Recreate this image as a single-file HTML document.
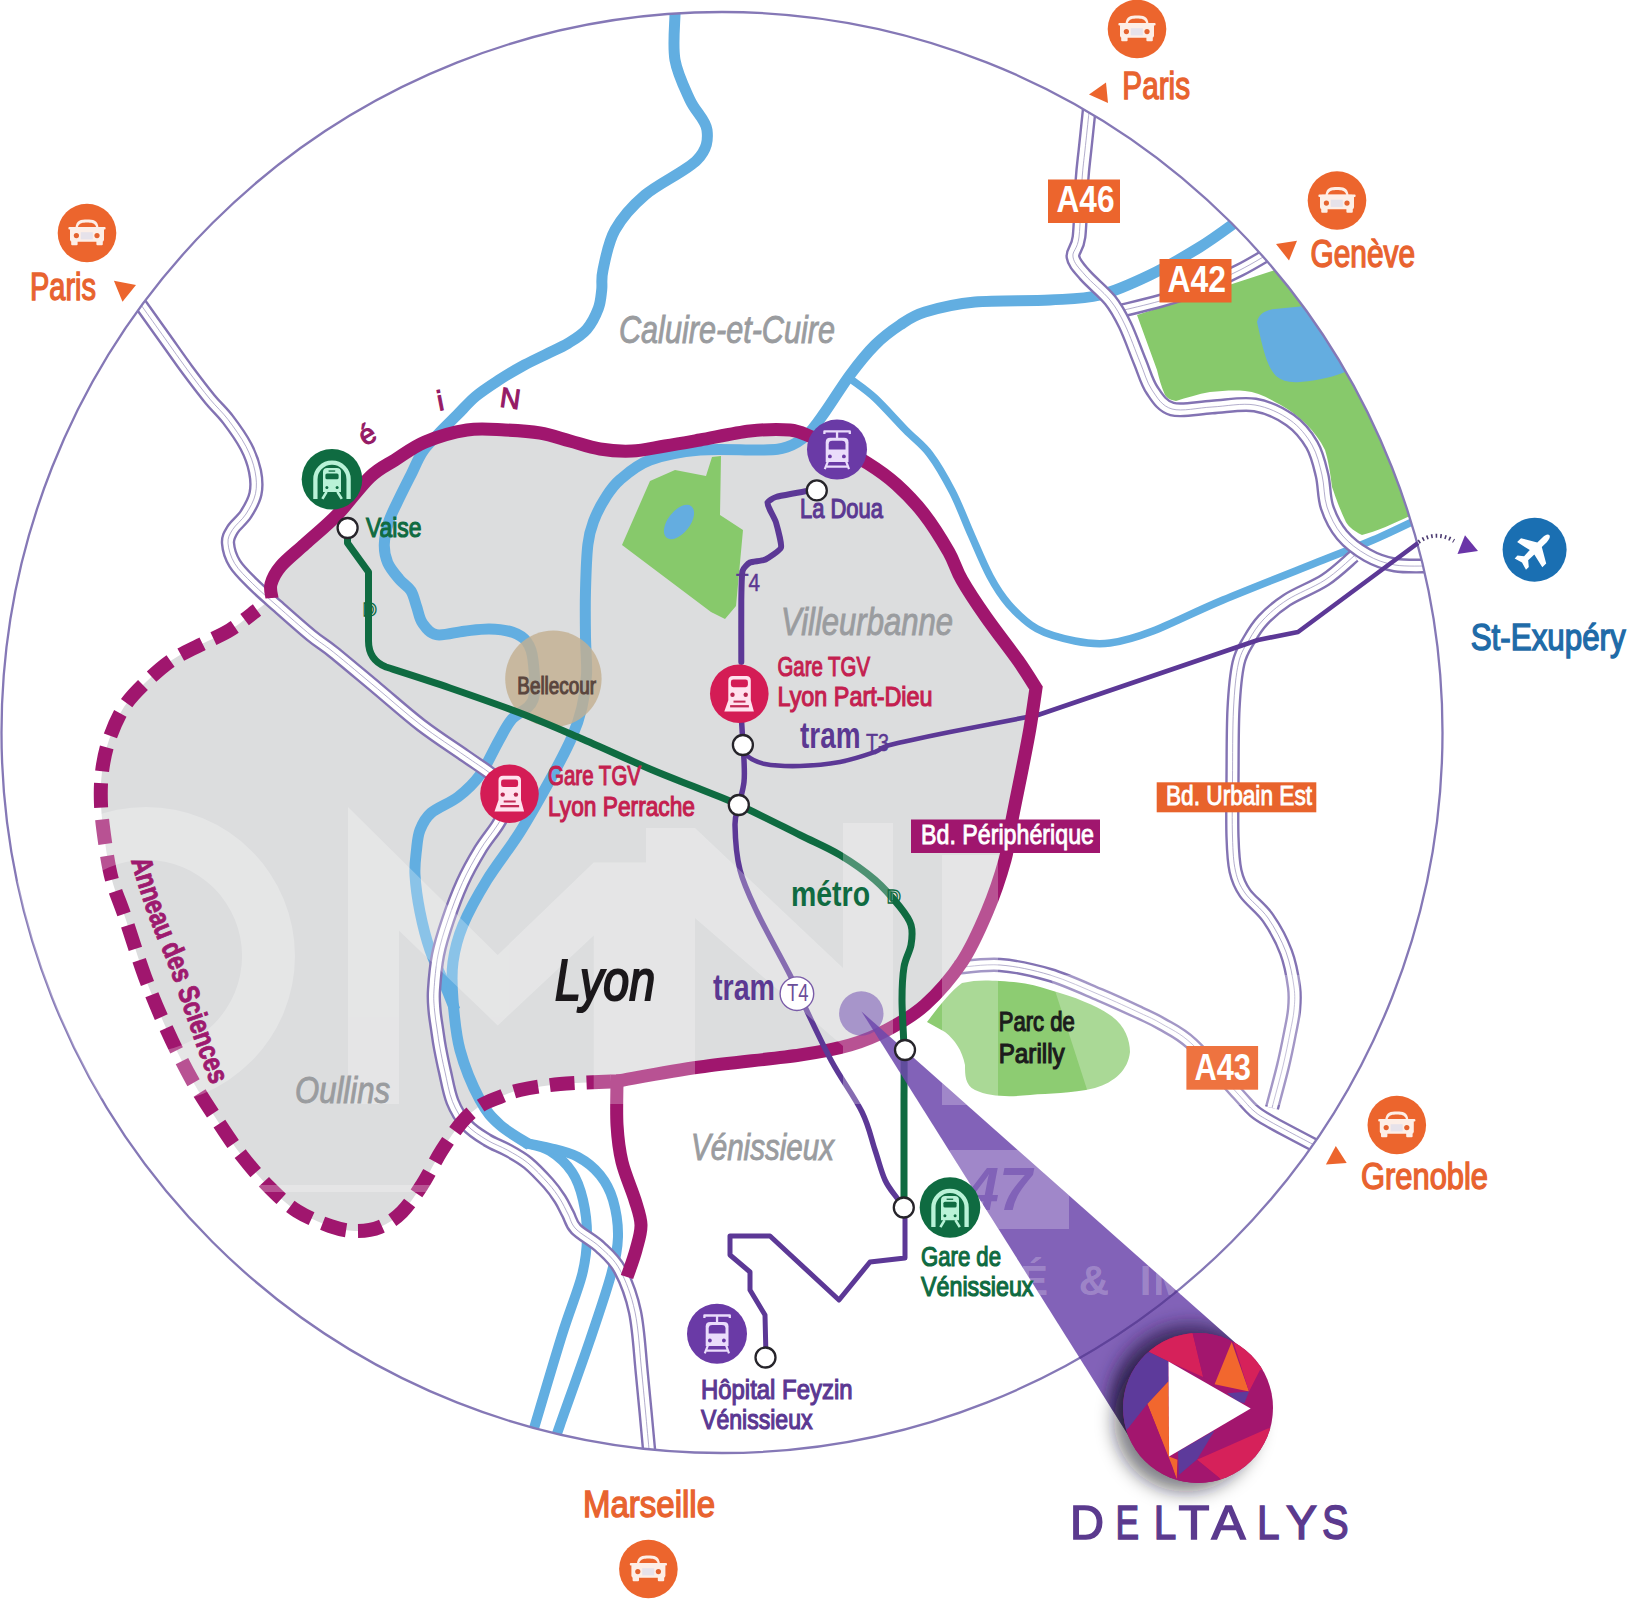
<!DOCTYPE html>
<html><head><meta charset="utf-8"><title>Deltalys - plan</title>
<style>html,body{margin:0;padding:0;background:#fff}svg{display:block}text{font-family:"Liberation Sans",sans-serif}</style>
</head><body>
<svg width="1646" height="1600" viewBox="0 0 1646 1600">
<defs>
<clipPath id="cc"><circle cx="722" cy="732.5" r="720.5"/></clipPath>
<g id="car"><circle r="29.3" fill="#ec652d"/>
<path d="M-11.6,-5 C-10.8,-13.2 -6,-13.6 0,-13.6 C6,-13.6 10.8,-13.2 11.6,-5 Z" fill="#fdeee6"/>
<path d="M-9.3,-5.6 C-8,-10 -4,-10.4 0,-10.4 C4,-10.4 8,-10 9.3,-5.6 Z" fill="#ec652d"/>
<rect x="-18.6" y="-6" width="37.2" height="2.6" rx="1" fill="#fdeee6"/>
<rect x="-17" y="-5.8" width="34" height="14.6" rx="2.5" fill="#fdeee6"/>
<rect x="-15.8" y="7" width="6.4" height="5.2" rx="1" fill="#fdeee6"/>
<rect x="9.4" y="7" width="6.4" height="5.2" rx="1" fill="#fdeee6"/>
<circle cx="-10.6" cy="2.6" r="2.6" fill="#e4622e"/><circle cx="10" cy="2.6" r="2.6" fill="#e4622e"/>
<rect x="-6.2" y="-0.8" width="12" height="7.2" fill="#e6e2ea"/></g>
<g id="metro"><circle r="30.3" fill="#0f6b41"/>
<path d="M-16.6,19.6 V0 A16.6,16.6 0 0 1 16.6,0 V19.6" fill="none" stroke="#b9f2d7" stroke-width="4.3"/>
<path d="M-9,12.8 V-7.2 Q-9,-11.4 -4.8,-11.4 H4.8 Q9,-11.4 9,-7.2 V12.8 Z" fill="#b9f2d7"/>
<rect x="-6.6" y="-5.8" width="13.2" height="5.8" rx="1.6" fill="#0f6b41"/>
<rect x="-3.4" y="-8.9" width="6.6" height="1.3" fill="#0f6b41"/>
<circle cx="-5.1" cy="8.3" r="1.5" fill="#0f6b41"/><circle cx="5.1" cy="8.3" r="1.5" fill="#0f6b41"/>
<path d="M-5.4,12.6 L-9.6,19.6 M5.4,12.6 L9.8,19.6" stroke="#b9f2d7" stroke-width="2.6" fill="none"/></g>
<g id="tram"><circle r="30" fill="#6a3aa6"/>
<path d="M-12.6,-15.6 V-18.2 H12.8 V-15.6" fill="none" stroke="#eadcfb" stroke-width="2.3" stroke-linejoin="round"/>
<rect x="-1.1" y="-18" width="2.3" height="7" fill="#eadcfb"/>
<path d="M-11.3,12.4 V-7.4 Q-11.3,-11.8 -6.8,-11.8 H7 Q11.5,-11.8 11.5,-7.4 V12.4 Z" fill="#eadcfb"/>
<path d="M-8.3,-0.2 V-5.4 Q-8.3,-8.8 -4.6,-8.8 H4.8 Q8.5,-8.8 8.5,-5.4 V-0.2 Z" fill="#6a3aa6"/>
<circle cx="-7.1" cy="6.8" r="1.9" fill="#6a3aa6"/><circle cx="6.9" cy="6.8" r="1.9" fill="#6a3aa6"/>
<path d="M-9.2,12 L-12.2,19.6 M9.2,12 L12,19.6 M-10.2,17 H10.2" stroke="#eadcfb" stroke-width="2.2" fill="none"/>
<rect x="-6" y="13" width="11.8" height="1.9" fill="#6a3aa6"/></g>
<g id="train"><circle r="29.3" fill="#d41c55"/>
<path d="M-11,6.4 V-13.4 Q-11,-17.9 -6.5,-17.9 H7 Q11.5,-17.9 11.5,-13.4 V6.4 L14.6,17.8 H-15 Z" fill="#ffe2ee"/>
<rect x="-8.4" y="-14.2" width="17" height="7.6" rx="2.4" fill="#d41c55"/>
<circle cx="-6.8" cy="0.9" r="2.2" fill="#b8264f"/><circle cx="6.4" cy="0.9" r="2.2" fill="#b8264f"/>
<rect x="-5.8" y="6.8" width="12" height="2" fill="#c22a55"/>
<rect x="-9.2" y="11.3" width="18.8" height="2.3" fill="#c22a55"/></g>
<g id="plane"><circle r="32" fill="#1a6fb2"/>
<path transform="rotate(45)" d="M0,-20.8 C2.1,-20.8 3.2,-17 3.2,-14 L3.2,-7 L17.8,1.4 L17.8,6.9 L3.2,3.6 L2.9,12 L8,16.2 L8,20.2 L0,17.8 L-8,20.2 L-8,16.2 L-2.9,12 L-3.2,3.6 L-17.8,6.9 L-17.8,1.4 L-3.2,-7 L-3.2,-14 C-3.2,-17 -2.1,-20.8 0,-20.8Z" fill="#fdfeff"/></g>
<g id="stn"><circle r="10" fill="#fff" stroke="#26242a" stroke-width="2.3"/></g>
<filter id="sh" x="-50%" y="-50%" width="200%" height="200%"><feGaussianBlur stdDeviation="9"/></filter>
<filter id="sh2" x="-50%" y="-50%" width="200%" height="200%"><feGaussianBlur stdDeviation="5"/></filter>
<clipPath id="beamclip"><path d="M861.5,1011.5 L1135.8,1447.2 L1198.0,1408.0 L1246.8,1353.0 Z"/></clipPath>
<clipPath id="logoclip"><circle cx="1198" cy="1408" r="75"/></clipPath>
</defs>
<rect width="1646" height="1600" fill="#fff"/>
<g clip-path="url(#cc)">
<path d="M272.0,598.0C271.8,595.7 269.5,589.3 271.0,584.0C272.5,578.7 275.3,572.7 281.0,566.0C286.7,559.3 295.7,552.5 305.0,544.0C314.3,535.5 326.2,526.2 337.0,515.0C347.8,503.8 360.3,486.2 370.0,477.0C379.7,467.8 385.8,465.8 395.0,460.0C404.2,454.2 413.0,447.0 425.0,442.0C437.0,437.0 453.7,432.0 467.0,430.0C480.3,428.0 492.8,429.5 505.0,430.0C517.2,430.5 529.2,431.2 540.0,433.0C550.8,434.8 560.0,438.3 570.0,441.0C580.0,443.7 589.7,447.3 600.0,449.0C610.3,450.7 621.2,451.5 632.0,451.0C642.8,450.5 653.7,447.8 665.0,446.0C676.3,444.2 685.8,442.5 700.0,440.0C714.2,437.5 735.0,432.7 750.0,431.0C765.0,429.3 779.7,429.0 790.0,430.0C800.3,431.0 804.2,434.2 812.0,437.0C819.8,439.8 827.7,442.6 837.0,447.0C846.3,451.4 858.1,457.3 868.0,463.5C877.9,469.7 886.9,475.9 896.3,484.4C905.7,492.9 915.6,503.1 924.4,514.4C933.1,525.6 942.5,541.0 948.8,551.9C955.0,562.8 955.6,569.1 961.9,580.0C968.1,590.9 976.9,604.1 986.3,617.5C995.7,630.9 1009.8,648.9 1018.1,660.6C1026.4,672.4 1033.0,683.4 1036.0,688.0L1036.0,688.0C1035.0,694.7 1032.3,714.3 1030.0,728.0C1027.7,741.7 1025.0,754.7 1022.0,770.0C1019.0,785.3 1014.8,805.0 1012.0,820.0C1009.2,835.0 1009.2,844.7 1005.0,860.0C1000.8,875.3 994.2,895.0 987.0,912.0C979.8,929.0 972.3,946.5 962.0,962.0C951.7,977.5 937.5,993.7 925.0,1005.0C912.5,1016.3 899.5,1023.3 887.0,1030.0C874.5,1036.7 864.5,1040.8 850.0,1045.0C835.5,1049.2 825.0,1051.3 800.0,1055.0C775.0,1058.7 730.5,1062.7 700.0,1067.0C669.5,1071.3 630.8,1078.7 617.0,1081.0L617.0,1081.0C614.2,1081.2 609.5,1081.5 600.0,1082.0C590.5,1082.5 573.3,1082.7 560.0,1084.0C546.7,1085.3 530.0,1087.8 520.0,1090.0C510.0,1092.2 506.7,1094.3 500.0,1097.0C493.3,1099.7 486.3,1101.8 480.0,1106.0C473.7,1110.2 468.3,1114.7 462.0,1122.0C455.7,1129.3 448.7,1139.5 442.0,1150.0C435.3,1160.5 428.7,1174.7 422.0,1185.0C415.3,1195.3 409.0,1205.0 402.0,1212.0C395.0,1219.0 387.8,1223.8 380.0,1227.0C372.2,1230.2 363.3,1231.2 355.0,1231.0C346.7,1230.8 339.7,1229.3 330.0,1226.0C320.3,1222.7 307.0,1217.3 297.0,1211.0C287.0,1204.7 279.2,1197.2 270.0,1188.0C260.8,1178.8 250.8,1167.3 242.0,1156.0C233.2,1144.7 225.3,1132.7 217.0,1120.0C208.7,1107.3 200.3,1095.0 192.0,1080.0C183.7,1065.0 174.8,1047.2 167.0,1030.0C159.2,1012.8 152.0,995.8 145.0,977.0C138.0,958.2 130.5,933.2 125.0,917.0C119.5,900.8 115.3,892.5 112.0,880.0C108.7,867.5 106.8,854.5 105.0,842.0C103.2,829.5 101.5,816.7 101.0,805.0C100.5,793.3 100.7,782.8 102.0,772.0C103.3,761.2 105.3,750.8 109.0,740.0C112.7,729.2 117.8,716.7 124.0,707.0C130.2,697.3 138.0,689.8 146.0,682.0C154.0,674.2 163.0,666.2 172.0,660.0C181.0,653.8 190.3,650.0 200.0,645.0C209.7,640.0 220.5,635.8 230.0,630.0C239.5,624.2 250.0,615.3 257.0,610.0C264.0,604.7 269.5,600.0 272.0,598.0Z" fill="#dcddde"/>
<path d="M622,545 L650,481 L675,470 L706,476 L712,457 L721,456 L720,515 L743,530 L736,606 L725,619 L711,612 Z" fill="#87c96b"/>
<ellipse cx="679" cy="522" rx="11" ry="20" transform="rotate(38 679 522)" fill="#64ade0"/>
<path d="M1137,315 L1272,271 L1500,200 L1500,500 L1412,515 C1395,523 1375,532 1362,535 C1352,530 1347,525 1345,520 C1338,505 1335,495 1332,487 C1330,470 1328,460 1325,450 C1320,440 1314,432 1307,425 C1297,415 1287,408 1275,402 C1265,396 1255,392 1245,391 C1233,390 1222,391 1210,392 C1198,394 1186,398 1176,401 C1170,400 1167,398 1165,395 C1161,386 1159,378 1157,370 Z" fill="#87c96b"/>
<path d="M1257,322 C1259,313 1266,310 1275,309 L1305,306 L1500,300 L1500,372 L1345,372 C1335,376 1322,380 1300,382 C1290,383 1282,381 1276,376 C1268,368 1264,352 1261,340 Z" fill="#64ade0"/>
<path d="M927,1022 C940,1005 950,992 962,983 C975,980 985,980 1000,981 C1020,982 1035,985 1050,990 C1075,997 1095,1005 1110,1015 C1125,1025 1130,1040 1130,1052 C1128,1070 1115,1082 1095,1088 C1070,1094 1050,1093 1030,1095 C1010,1097 990,1097 975,1090 C965,1085 965,1075 965,1065 C962,1050 955,1040 945,1032 Z" fill="#8dcc72"/>
<g fill="none" stroke="#62aee1" stroke-linecap="butt" stroke-linejoin="round">
<path d="M852.0,380.0C855.8,383.0 866.1,389.7 875.0,398.0C883.9,406.3 896.4,420.6 905.6,430.0C914.8,439.4 922.2,444.1 930.0,454.4C937.8,464.7 945.6,478.5 952.5,491.9C959.4,505.3 965.0,520.9 971.3,535.0C977.5,549.1 983.8,564.7 990.0,576.3C996.2,587.9 1001.0,595.6 1008.8,604.4C1016.6,613.1 1025.9,622.7 1036.9,628.8C1047.9,634.9 1062.8,638.6 1075.0,641.0C1087.2,643.4 1097.0,644.7 1110.0,643.0C1123.0,641.3 1134.2,638.2 1153.0,631.0C1171.8,623.8 1194.7,611.8 1223.0,600.0C1251.3,588.2 1298.0,570.0 1323.0,560.0C1348.0,550.0 1356.8,547.0 1373.0,540.0C1389.2,533.0 1412.2,521.7 1420.0,518.0" stroke-width="7.5"/>
<path d="M675.0,14.0C675.0,21.7 672.5,45.7 675.0,60.0C677.5,74.3 684.7,88.3 690.0,100.0C695.3,111.7 705.8,120.0 707.0,130.0C708.2,140.0 707.3,149.2 697.0,160.0C686.7,170.8 658.7,183.3 645.0,195.0C631.3,206.7 622.0,217.5 615.0,230.0C608.0,242.5 605.2,260.0 603.0,270.0C600.8,280.0 602.5,283.6 601.7,290.0C600.9,296.4 600.8,301.9 598.3,308.5C595.8,315.1 591.7,323.5 586.7,329.3C581.7,335.1 575.2,338.9 568.2,343.2C561.2,347.4 552.7,350.9 545.0,354.8C537.3,358.7 529.6,362.1 521.9,366.3C514.2,370.5 506.5,375.2 498.8,380.2C491.1,385.2 482.6,390.6 475.7,396.4C468.8,402.2 463.4,408.7 457.2,414.9C451.0,421.1 444.5,427.2 438.7,433.4C432.9,439.6 427.1,445.0 422.5,451.9C417.9,458.8 414.8,467.3 410.9,475.0C407.0,482.7 403.0,490.5 399.3,498.2C395.6,505.9 391.4,513.6 388.9,521.3C386.4,529.0 384.5,537.4 384.3,544.4C384.1,551.4 385.3,557.2 387.8,563.0C390.3,568.8 395.5,574.6 399.3,579.2C403.1,583.8 408.0,586.1 410.9,590.7C413.8,595.3 414.8,601.5 416.7,606.9C418.6,612.3 419.2,618.5 422.5,623.1C425.8,627.7 429.4,633.4 436.3,634.7C443.2,636.1 455.2,632.2 464.1,631.2C473.0,630.2 481.4,628.7 489.5,628.9C497.6,629.1 506.5,630.2 512.7,632.3C518.9,634.4 523.2,637.0 526.6,641.6C530.0,646.2 531.9,650.3 533.0,660.0C534.1,669.7 536.5,690.2 533.0,700.0C529.5,709.8 517.8,712.1 512.0,719.0C506.2,725.9 503.8,731.9 498.5,741.2C493.2,750.5 486.8,765.7 480.0,775.0C473.2,784.3 466.2,790.7 458.0,797.0C449.8,803.3 437.3,807.5 431.0,813.0C424.7,818.5 422.4,823.8 420.0,830.0C417.6,836.2 417.3,842.5 416.5,850.0C415.7,857.5 414.4,864.7 415.0,875.0C415.6,885.3 417.5,899.5 420.0,912.0C422.5,924.5 425.8,937.8 430.0,950.0C434.2,962.2 440.8,975.0 445.0,985.0C449.2,995.0 453.3,1005.8 455.0,1010.0" stroke-width="11"/>
<path d="M1236.0,222.0C1230.0,226.2 1214.3,238.2 1200.0,247.0C1185.7,255.8 1166.7,267.0 1150.0,275.0C1133.3,283.0 1116.7,290.8 1100.0,295.0C1083.3,299.2 1070.8,298.8 1050.0,300.0C1029.2,301.2 995.8,300.0 975.0,302.0C954.2,304.0 937.5,308.2 925.0,312.0C912.5,315.8 908.3,319.5 900.0,325.0C891.7,330.5 883.3,336.7 875.0,345.0C866.7,353.3 858.3,363.8 850.0,375.0C841.7,386.2 832.2,402.0 825.0,412.0C817.8,422.0 813.3,429.2 807.0,435.0C800.7,440.8 794.5,444.5 787.0,447.0C779.5,449.5 776.5,449.5 762.0,450.0C747.5,450.5 718.7,448.3 700.0,450.0C681.3,451.7 663.3,455.1 650.0,460.0C636.7,464.9 627.5,473.3 620.0,479.7C612.5,486.1 609.6,491.3 605.2,498.2C600.8,505.1 596.5,513.6 593.6,521.3C590.7,529.0 589.2,532.8 587.9,544.4C586.5,556.0 585.9,575.3 585.5,590.7C585.1,606.1 585.3,623.0 585.5,637.0C585.7,651.0 587.1,663.2 586.5,675.0C585.9,686.8 584.3,697.3 581.9,707.6C579.5,717.9 577.3,724.9 572.0,737.0C566.7,749.1 558.7,764.2 550.0,780.0C541.3,795.8 530.5,815.3 520.0,832.0C509.5,848.7 496.5,864.5 487.0,880.0C477.5,895.5 468.7,911.3 463.0,925.0C457.3,938.7 454.7,949.5 453.0,962.0C451.3,974.5 451.8,985.3 453.0,1000.0C454.2,1014.7 455.5,1033.3 460.0,1050.0C464.5,1066.7 473.3,1087.5 480.0,1100.0C486.7,1112.5 491.7,1117.5 500.0,1125.0C508.3,1132.5 525.0,1141.7 530.0,1145.0" stroke-width="11"/>
<path d="M525.0,1143.0C529.2,1144.3 542.2,1146.2 550.0,1151.0C557.8,1155.8 566.5,1163.8 572.0,1172.0C577.5,1180.2 580.5,1189.2 583.0,1200.0C585.5,1210.8 587.2,1224.5 587.0,1237.0C586.8,1249.5 586.2,1258.7 582.0,1275.0C577.8,1291.3 569.8,1310.0 562.0,1335.0C554.2,1360.0 541.2,1404.2 535.0,1425.0C528.8,1445.8 526.7,1454.2 525.0,1460.0" stroke-width="10"/>
<path d="M525.0,1143.0C529.2,1143.8 541.2,1145.7 550.0,1148.0C558.8,1150.3 569.7,1152.5 578.0,1157.0C586.3,1161.5 594.2,1167.8 600.0,1175.0C605.8,1182.2 610.0,1189.7 613.0,1200.0C616.0,1210.3 618.3,1224.5 618.0,1237.0C617.7,1249.5 615.7,1257.8 611.0,1275.0C606.3,1292.2 598.5,1315.0 590.0,1340.0C581.5,1365.0 567.0,1405.0 560.0,1425.0C553.0,1445.0 550.0,1454.2 548.0,1460.0" stroke-width="10"/>
</g>
<circle cx="553.4" cy="678.7" r="48.2" fill="#c3b091" fill-opacity="0.82"/>
<path d="M1120.0,311.0C1126.7,309.3 1146.7,304.8 1160.0,301.0C1173.3,297.2 1186.7,293.2 1200.0,288.0C1213.3,282.8 1227.5,276.3 1240.0,270.0C1252.5,263.7 1269.2,253.3 1275.0,250.0" fill="none" stroke="#8373b3" stroke-width="14.4"/>
<path d="M1120.0,311.0C1126.7,309.3 1146.7,304.8 1160.0,301.0C1173.3,297.2 1186.7,293.2 1200.0,288.0C1213.3,282.8 1227.5,276.3 1240.0,270.0C1252.5,263.7 1269.2,253.3 1275.0,250.0" fill="none" stroke="#fff" stroke-width="9.6"/>
<path d="M1120.0,311.0C1126.7,309.3 1146.7,304.8 1160.0,301.0C1173.3,297.2 1186.7,293.2 1200.0,288.0C1213.3,282.8 1227.5,276.3 1240.0,270.0C1252.5,263.7 1269.2,253.3 1275.0,250.0" fill="none" stroke="#9a93bb" stroke-width="1" stroke-opacity="0.75"/>
<path d="M1354.0,556.0C1349.2,560.0 1336.2,572.7 1325.0,580.0C1313.8,587.3 1297.3,593.3 1287.0,600.0C1276.7,606.7 1269.3,613.3 1263.0,620.0C1256.7,626.7 1253.1,632.8 1249.0,640.0C1244.9,647.2 1241.1,651.5 1238.5,663.0C1235.9,674.5 1234.5,689.7 1233.5,709.0C1232.5,728.3 1232.7,757.7 1232.5,779.0C1232.3,800.3 1232.0,821.7 1232.5,837.0C1233.0,852.3 1233.4,861.7 1235.5,871.0C1237.6,880.3 1239.6,885.2 1245.0,893.0C1250.4,900.8 1261.2,908.2 1268.0,918.0C1274.8,927.8 1281.7,940.5 1286.0,952.0C1290.3,963.5 1292.7,977.3 1294.0,987.0C1295.3,996.7 1294.7,1002.3 1294.0,1010.0C1293.3,1017.7 1291.8,1023.7 1290.0,1033.0C1288.2,1042.3 1286.0,1053.5 1283.0,1066.0C1280.0,1078.5 1273.8,1101.0 1272.0,1108.0" fill="none" stroke="#8373b3" stroke-width="14.4"/>
<path d="M1354.0,556.0C1349.2,560.0 1336.2,572.7 1325.0,580.0C1313.8,587.3 1297.3,593.3 1287.0,600.0C1276.7,606.7 1269.3,613.3 1263.0,620.0C1256.7,626.7 1253.1,632.8 1249.0,640.0C1244.9,647.2 1241.1,651.5 1238.5,663.0C1235.9,674.5 1234.5,689.7 1233.5,709.0C1232.5,728.3 1232.7,757.7 1232.5,779.0C1232.3,800.3 1232.0,821.7 1232.5,837.0C1233.0,852.3 1233.4,861.7 1235.5,871.0C1237.6,880.3 1239.6,885.2 1245.0,893.0C1250.4,900.8 1261.2,908.2 1268.0,918.0C1274.8,927.8 1281.7,940.5 1286.0,952.0C1290.3,963.5 1292.7,977.3 1294.0,987.0C1295.3,996.7 1294.7,1002.3 1294.0,1010.0C1293.3,1017.7 1291.8,1023.7 1290.0,1033.0C1288.2,1042.3 1286.0,1053.5 1283.0,1066.0C1280.0,1078.5 1273.8,1101.0 1272.0,1108.0" fill="none" stroke="#fff" stroke-width="9.6"/>
<path d="M1354.0,556.0C1349.2,560.0 1336.2,572.7 1325.0,580.0C1313.8,587.3 1297.3,593.3 1287.0,600.0C1276.7,606.7 1269.3,613.3 1263.0,620.0C1256.7,626.7 1253.1,632.8 1249.0,640.0C1244.9,647.2 1241.1,651.5 1238.5,663.0C1235.9,674.5 1234.5,689.7 1233.5,709.0C1232.5,728.3 1232.7,757.7 1232.5,779.0C1232.3,800.3 1232.0,821.7 1232.5,837.0C1233.0,852.3 1233.4,861.7 1235.5,871.0C1237.6,880.3 1239.6,885.2 1245.0,893.0C1250.4,900.8 1261.2,908.2 1268.0,918.0C1274.8,927.8 1281.7,940.5 1286.0,952.0C1290.3,963.5 1292.7,977.3 1294.0,987.0C1295.3,996.7 1294.7,1002.3 1294.0,1010.0C1293.3,1017.7 1291.8,1023.7 1290.0,1033.0C1288.2,1042.3 1286.0,1053.5 1283.0,1066.0C1280.0,1078.5 1273.8,1101.0 1272.0,1108.0" fill="none" stroke="#9a93bb" stroke-width="1" stroke-opacity="0.75"/>
<path d="M955.0,968.0C962.5,967.5 984.2,963.8 1000.0,965.0C1015.8,966.2 1033.3,970.0 1050.0,975.0C1066.7,980.0 1085.0,988.7 1100.0,995.0C1115.0,1001.3 1129.7,1008.2 1140.0,1013.0C1150.3,1017.8 1153.3,1018.8 1162.0,1024.0C1170.7,1029.2 1179.3,1032.3 1192.0,1044.0C1204.7,1055.7 1227.7,1082.8 1238.0,1094.0C1248.3,1105.2 1248.5,1106.3 1254.0,1111.0C1259.5,1115.7 1260.0,1115.8 1271.0,1122.0C1282.0,1128.2 1311.8,1143.7 1320.0,1148.0" fill="none" stroke="#8373b3" stroke-width="14.4"/>
<path d="M955.0,968.0C962.5,967.5 984.2,963.8 1000.0,965.0C1015.8,966.2 1033.3,970.0 1050.0,975.0C1066.7,980.0 1085.0,988.7 1100.0,995.0C1115.0,1001.3 1129.7,1008.2 1140.0,1013.0C1150.3,1017.8 1153.3,1018.8 1162.0,1024.0C1170.7,1029.2 1179.3,1032.3 1192.0,1044.0C1204.7,1055.7 1227.7,1082.8 1238.0,1094.0C1248.3,1105.2 1248.5,1106.3 1254.0,1111.0C1259.5,1115.7 1260.0,1115.8 1271.0,1122.0C1282.0,1128.2 1311.8,1143.7 1320.0,1148.0" fill="none" stroke="#fff" stroke-width="9.6"/>
<path d="M955.0,968.0C962.5,967.5 984.2,963.8 1000.0,965.0C1015.8,966.2 1033.3,970.0 1050.0,975.0C1066.7,980.0 1085.0,988.7 1100.0,995.0C1115.0,1001.3 1129.7,1008.2 1140.0,1013.0C1150.3,1017.8 1153.3,1018.8 1162.0,1024.0C1170.7,1029.2 1179.3,1032.3 1192.0,1044.0C1204.7,1055.7 1227.7,1082.8 1238.0,1094.0C1248.3,1105.2 1248.5,1106.3 1254.0,1111.0C1259.5,1115.7 1260.0,1115.8 1271.0,1122.0C1282.0,1128.2 1311.8,1143.7 1320.0,1148.0" fill="none" stroke="#9a93bb" stroke-width="1" stroke-opacity="0.75"/>
<path d="M1090.0,100.0C1089.8,102.0 1089.8,103.7 1089.0,112.0C1088.2,120.3 1086.2,138.7 1085.0,150.0C1083.8,161.3 1083.0,165.5 1082.0,180.0C1081.0,194.5 1080.5,224.2 1079.0,237.0C1077.5,249.8 1072.0,250.7 1073.0,257.0C1074.0,263.3 1078.8,267.8 1085.0,275.0C1091.2,282.2 1103.3,291.7 1110.0,300.0C1116.7,308.3 1120.0,314.7 1125.0,325.0C1130.0,335.3 1135.5,351.2 1140.0,362.0C1144.5,372.8 1146.7,382.2 1152.0,390.0C1157.3,397.8 1162.0,406.2 1172.0,409.0C1182.0,411.8 1198.2,407.7 1212.0,407.0C1225.8,406.3 1242.0,402.8 1255.0,405.0C1268.0,407.2 1280.5,413.3 1290.0,420.0C1299.5,426.7 1306.7,435.8 1312.0,445.0C1317.3,454.2 1319.5,464.7 1322.0,475.0C1324.5,485.3 1323.7,497.0 1327.0,507.0C1330.3,517.0 1335.3,527.0 1342.0,535.0C1348.7,543.0 1358.2,550.0 1367.0,555.0C1375.8,560.0 1384.5,563.2 1395.0,565.0C1405.5,566.8 1424.2,565.8 1430.0,566.0" fill="none" stroke="#8373b3" stroke-width="15.0"/>
<path d="M1090.0,100.0C1089.8,102.0 1089.8,103.7 1089.0,112.0C1088.2,120.3 1086.2,138.7 1085.0,150.0C1083.8,161.3 1083.0,165.5 1082.0,180.0C1081.0,194.5 1080.5,224.2 1079.0,237.0C1077.5,249.8 1072.0,250.7 1073.0,257.0C1074.0,263.3 1078.8,267.8 1085.0,275.0C1091.2,282.2 1103.3,291.7 1110.0,300.0C1116.7,308.3 1120.0,314.7 1125.0,325.0C1130.0,335.3 1135.5,351.2 1140.0,362.0C1144.5,372.8 1146.7,382.2 1152.0,390.0C1157.3,397.8 1162.0,406.2 1172.0,409.0C1182.0,411.8 1198.2,407.7 1212.0,407.0C1225.8,406.3 1242.0,402.8 1255.0,405.0C1268.0,407.2 1280.5,413.3 1290.0,420.0C1299.5,426.7 1306.7,435.8 1312.0,445.0C1317.3,454.2 1319.5,464.7 1322.0,475.0C1324.5,485.3 1323.7,497.0 1327.0,507.0C1330.3,517.0 1335.3,527.0 1342.0,535.0C1348.7,543.0 1358.2,550.0 1367.0,555.0C1375.8,560.0 1384.5,563.2 1395.0,565.0C1405.5,566.8 1424.2,565.8 1430.0,566.0" fill="none" stroke="#fff" stroke-width="10.2"/>
<path d="M1090.0,100.0C1089.8,102.0 1089.8,103.7 1089.0,112.0C1088.2,120.3 1086.2,138.7 1085.0,150.0C1083.8,161.3 1083.0,165.5 1082.0,180.0C1081.0,194.5 1080.5,224.2 1079.0,237.0C1077.5,249.8 1072.0,250.7 1073.0,257.0C1074.0,263.3 1078.8,267.8 1085.0,275.0C1091.2,282.2 1103.3,291.7 1110.0,300.0C1116.7,308.3 1120.0,314.7 1125.0,325.0C1130.0,335.3 1135.5,351.2 1140.0,362.0C1144.5,372.8 1146.7,382.2 1152.0,390.0C1157.3,397.8 1162.0,406.2 1172.0,409.0C1182.0,411.8 1198.2,407.7 1212.0,407.0C1225.8,406.3 1242.0,402.8 1255.0,405.0C1268.0,407.2 1280.5,413.3 1290.0,420.0C1299.5,426.7 1306.7,435.8 1312.0,445.0C1317.3,454.2 1319.5,464.7 1322.0,475.0C1324.5,485.3 1323.7,497.0 1327.0,507.0C1330.3,517.0 1335.3,527.0 1342.0,535.0C1348.7,543.0 1358.2,550.0 1367.0,555.0C1375.8,560.0 1384.5,563.2 1395.0,565.0C1405.5,566.8 1424.2,565.8 1430.0,566.0" fill="none" stroke="#9a93bb" stroke-width="1" stroke-opacity="0.75"/>
<path d="M135.0,296.0C136.2,297.8 137.5,299.9 142.5,307.0C147.5,314.1 157.5,328.0 165.0,338.5C172.5,349.0 180.0,359.9 187.5,370.0C195.0,380.1 203.2,390.9 210.0,399.2C216.8,407.4 222.0,411.6 228.0,419.5C234.0,427.4 241.5,437.9 246.0,446.5C250.5,455.1 253.4,463.3 255.0,471.2C256.6,479.1 257.0,486.6 255.5,493.7C254.0,500.8 249.8,508.0 246.0,514.0C242.2,520.0 235.5,524.8 232.5,529.7C229.5,534.6 227.6,537.6 228.0,543.2C228.4,548.8 230.6,556.8 234.7,563.5C238.8,570.2 245.6,576.6 252.7,583.7C259.8,590.8 267.8,597.6 277.5,606.2C287.2,614.8 301.8,627.8 311.2,635.5C320.6,643.2 322.6,643.4 333.7,652.3C344.8,661.2 362.9,676.6 377.5,688.7C392.1,700.9 406.6,714.0 421.2,725.2C435.8,736.4 453.8,748.0 465.0,755.8C476.2,763.6 481.6,766.9 488.3,771.9C495.0,776.9 502.2,783.6 505.0,786.0" fill="none" stroke="#8373b3" stroke-width="14.4"/>
<path d="M135.0,296.0C136.2,297.8 137.5,299.9 142.5,307.0C147.5,314.1 157.5,328.0 165.0,338.5C172.5,349.0 180.0,359.9 187.5,370.0C195.0,380.1 203.2,390.9 210.0,399.2C216.8,407.4 222.0,411.6 228.0,419.5C234.0,427.4 241.5,437.9 246.0,446.5C250.5,455.1 253.4,463.3 255.0,471.2C256.6,479.1 257.0,486.6 255.5,493.7C254.0,500.8 249.8,508.0 246.0,514.0C242.2,520.0 235.5,524.8 232.5,529.7C229.5,534.6 227.6,537.6 228.0,543.2C228.4,548.8 230.6,556.8 234.7,563.5C238.8,570.2 245.6,576.6 252.7,583.7C259.8,590.8 267.8,597.6 277.5,606.2C287.2,614.8 301.8,627.8 311.2,635.5C320.6,643.2 322.6,643.4 333.7,652.3C344.8,661.2 362.9,676.6 377.5,688.7C392.1,700.9 406.6,714.0 421.2,725.2C435.8,736.4 453.8,748.0 465.0,755.8C476.2,763.6 481.6,766.9 488.3,771.9C495.0,776.9 502.2,783.6 505.0,786.0" fill="none" stroke="#fff" stroke-width="9.6"/>
<path d="M135.0,296.0C136.2,297.8 137.5,299.9 142.5,307.0C147.5,314.1 157.5,328.0 165.0,338.5C172.5,349.0 180.0,359.9 187.5,370.0C195.0,380.1 203.2,390.9 210.0,399.2C216.8,407.4 222.0,411.6 228.0,419.5C234.0,427.4 241.5,437.9 246.0,446.5C250.5,455.1 253.4,463.3 255.0,471.2C256.6,479.1 257.0,486.6 255.5,493.7C254.0,500.8 249.8,508.0 246.0,514.0C242.2,520.0 235.5,524.8 232.5,529.7C229.5,534.6 227.6,537.6 228.0,543.2C228.4,548.8 230.6,556.8 234.7,563.5C238.8,570.2 245.6,576.6 252.7,583.7C259.8,590.8 267.8,597.6 277.5,606.2C287.2,614.8 301.8,627.8 311.2,635.5C320.6,643.2 322.6,643.4 333.7,652.3C344.8,661.2 362.9,676.6 377.5,688.7C392.1,700.9 406.6,714.0 421.2,725.2C435.8,736.4 453.8,748.0 465.0,755.8C476.2,763.6 481.6,766.9 488.3,771.9C495.0,776.9 502.2,783.6 505.0,786.0" fill="none" stroke="#9a93bb" stroke-width="1" stroke-opacity="0.75"/>
<path d="M512.0,800.0C509.6,804.2 502.8,816.7 497.5,825.0C492.2,833.3 485.8,840.4 480.0,850.0C474.2,859.6 467.8,870.8 462.5,882.5C457.2,894.2 452.1,907.9 448.0,920.0C443.9,932.1 440.3,943.3 438.0,955.0C435.7,966.7 434.6,980.8 434.0,990.0C433.4,999.2 434.0,1003.3 434.5,1010.0C435.0,1016.7 436.3,1023.7 437.2,1030.0C438.1,1036.3 438.7,1041.2 440.0,1048.0C441.3,1054.8 442.7,1062.1 444.8,1071.0C446.9,1079.9 448.9,1092.7 452.5,1101.6C456.1,1110.5 460.8,1118.2 466.5,1124.6C472.2,1131.0 480.2,1135.8 487.0,1140.0C493.8,1144.2 500.5,1146.2 507.3,1150.0C514.1,1153.8 521.0,1157.4 527.8,1162.9C534.6,1168.5 542.8,1177.3 548.2,1183.3C553.6,1189.3 556.7,1193.9 560.0,1199.0C563.3,1204.1 565.3,1209.0 568.0,1214.0C570.7,1219.0 570.7,1223.5 576.0,1229.0C581.3,1234.5 592.7,1240.2 600.0,1247.0C607.3,1253.8 614.2,1259.2 620.0,1270.0C625.8,1280.8 631.3,1294.5 635.0,1312.0C638.7,1329.5 639.5,1350.3 642.0,1375.0C644.5,1399.7 648.7,1445.8 650.0,1460.0" fill="none" stroke="#8373b3" stroke-width="14.4"/>
<path d="M512.0,800.0C509.6,804.2 502.8,816.7 497.5,825.0C492.2,833.3 485.8,840.4 480.0,850.0C474.2,859.6 467.8,870.8 462.5,882.5C457.2,894.2 452.1,907.9 448.0,920.0C443.9,932.1 440.3,943.3 438.0,955.0C435.7,966.7 434.6,980.8 434.0,990.0C433.4,999.2 434.0,1003.3 434.5,1010.0C435.0,1016.7 436.3,1023.7 437.2,1030.0C438.1,1036.3 438.7,1041.2 440.0,1048.0C441.3,1054.8 442.7,1062.1 444.8,1071.0C446.9,1079.9 448.9,1092.7 452.5,1101.6C456.1,1110.5 460.8,1118.2 466.5,1124.6C472.2,1131.0 480.2,1135.8 487.0,1140.0C493.8,1144.2 500.5,1146.2 507.3,1150.0C514.1,1153.8 521.0,1157.4 527.8,1162.9C534.6,1168.5 542.8,1177.3 548.2,1183.3C553.6,1189.3 556.7,1193.9 560.0,1199.0C563.3,1204.1 565.3,1209.0 568.0,1214.0C570.7,1219.0 570.7,1223.5 576.0,1229.0C581.3,1234.5 592.7,1240.2 600.0,1247.0C607.3,1253.8 614.2,1259.2 620.0,1270.0C625.8,1280.8 631.3,1294.5 635.0,1312.0C638.7,1329.5 639.5,1350.3 642.0,1375.0C644.5,1399.7 648.7,1445.8 650.0,1460.0" fill="none" stroke="#fff" stroke-width="9.6"/>
<path d="M512.0,800.0C509.6,804.2 502.8,816.7 497.5,825.0C492.2,833.3 485.8,840.4 480.0,850.0C474.2,859.6 467.8,870.8 462.5,882.5C457.2,894.2 452.1,907.9 448.0,920.0C443.9,932.1 440.3,943.3 438.0,955.0C435.7,966.7 434.6,980.8 434.0,990.0C433.4,999.2 434.0,1003.3 434.5,1010.0C435.0,1016.7 436.3,1023.7 437.2,1030.0C438.1,1036.3 438.7,1041.2 440.0,1048.0C441.3,1054.8 442.7,1062.1 444.8,1071.0C446.9,1079.9 448.9,1092.7 452.5,1101.6C456.1,1110.5 460.8,1118.2 466.5,1124.6C472.2,1131.0 480.2,1135.8 487.0,1140.0C493.8,1144.2 500.5,1146.2 507.3,1150.0C514.1,1153.8 521.0,1157.4 527.8,1162.9C534.6,1168.5 542.8,1177.3 548.2,1183.3C553.6,1189.3 556.7,1193.9 560.0,1199.0C563.3,1204.1 565.3,1209.0 568.0,1214.0C570.7,1219.0 570.7,1223.5 576.0,1229.0C581.3,1234.5 592.7,1240.2 600.0,1247.0C607.3,1253.8 614.2,1259.2 620.0,1270.0C625.8,1280.8 631.3,1294.5 635.0,1312.0C638.7,1329.5 639.5,1350.3 642.0,1375.0C644.5,1399.7 648.7,1445.8 650.0,1460.0" fill="none" stroke="#9a93bb" stroke-width="1" stroke-opacity="0.75"/>
</g>
<circle cx="722" cy="732.5" r="720.5" fill="none" stroke="#8578b6" stroke-width="2.3"/>
<path d="M743.0,745.0C743.5,746.7 742.3,751.8 746.0,755.0C749.7,758.2 756.0,762.2 765.0,764.0C774.0,765.8 787.5,766.3 800.0,766.0C812.5,765.7 827.5,764.3 840.0,762.0C852.5,759.7 866.7,754.8 875.0,752.0C883.3,749.2 877.5,748.3 890.0,745.0C902.5,741.7 925.3,737.0 950.0,732.0C974.7,727.0 1023.3,717.8 1038.0,715.0 L1038.0,715.0 L1258.0,640.0 L1298.0,632.0 L1418.0,543.0" fill="none" stroke="#5c3896" stroke-width="4.6" stroke-linejoin="round"/>
<g fill="none" stroke="#a0166e" stroke-width="13">
<path d="M272.0,598.0C271.8,595.7 269.5,589.3 271.0,584.0C272.5,578.7 275.3,572.7 281.0,566.0C286.7,559.3 295.7,552.5 305.0,544.0C314.3,535.5 326.2,526.2 337.0,515.0C347.8,503.8 360.3,486.2 370.0,477.0C379.7,467.8 385.8,465.8 395.0,460.0C404.2,454.2 413.0,447.0 425.0,442.0C437.0,437.0 453.7,432.0 467.0,430.0C480.3,428.0 492.8,429.5 505.0,430.0C517.2,430.5 529.2,431.2 540.0,433.0C550.8,434.8 560.0,438.3 570.0,441.0C580.0,443.7 589.7,447.3 600.0,449.0C610.3,450.7 621.2,451.5 632.0,451.0C642.8,450.5 653.7,447.8 665.0,446.0C676.3,444.2 685.8,442.5 700.0,440.0C714.2,437.5 735.0,432.7 750.0,431.0C765.0,429.3 779.7,429.0 790.0,430.0C800.3,431.0 804.2,434.2 812.0,437.0C819.8,439.8 827.7,442.6 837.0,447.0C846.3,451.4 858.1,457.3 868.0,463.5C877.9,469.7 886.9,475.9 896.3,484.4C905.7,492.9 915.6,503.1 924.4,514.4C933.1,525.6 942.5,541.0 948.8,551.9C955.0,562.8 955.6,569.1 961.9,580.0C968.1,590.9 976.9,604.1 986.3,617.5C995.7,630.9 1009.8,648.9 1018.1,660.6C1026.4,672.4 1033.0,683.4 1036.0,688.0L1036.0,688.0C1035.0,694.7 1032.3,714.3 1030.0,728.0C1027.7,741.7 1025.0,754.7 1022.0,770.0C1019.0,785.3 1014.8,805.0 1012.0,820.0C1009.2,835.0 1009.2,844.7 1005.0,860.0C1000.8,875.3 994.2,895.0 987.0,912.0C979.8,929.0 972.3,946.5 962.0,962.0C951.7,977.5 937.5,993.7 925.0,1005.0C912.5,1016.3 899.5,1023.3 887.0,1030.0C874.5,1036.7 864.5,1040.8 850.0,1045.0C835.5,1049.2 825.0,1051.3 800.0,1055.0C775.0,1058.7 730.5,1062.7 700.0,1067.0C669.5,1071.3 630.8,1078.7 617.0,1081.0" stroke-linejoin="miter" stroke-miterlimit="6"/>
<path d="M623.5,1081.0 L617.0,1081.0L617.0,1081.0C617.0,1088.3 616.2,1111.5 617.0,1125.0C617.8,1138.5 619.0,1149.5 622.0,1162.0C625.0,1174.5 631.8,1189.5 635.0,1200.0C638.2,1210.5 640.8,1216.7 641.0,1225.0C641.2,1233.3 638.3,1241.3 636.0,1250.0C633.7,1258.7 628.5,1272.5 627.0,1277.0" stroke-linejoin="miter"/>
<path d="M611.0,1081.4C602.5,1081.8 575.2,1082.6 560.0,1084.0C544.8,1085.4 530.0,1087.8 520.0,1090.0C510.0,1092.2 506.7,1094.3 500.0,1097.0C493.3,1099.7 486.3,1101.8 480.0,1106.0C473.7,1110.2 468.3,1114.7 462.0,1122.0C455.7,1129.3 448.7,1139.5 442.0,1150.0C435.3,1160.5 428.7,1174.7 422.0,1185.0C415.3,1195.3 409.0,1205.0 402.0,1212.0C395.0,1219.0 387.8,1223.8 380.0,1227.0C372.2,1230.2 363.3,1231.2 355.0,1231.0C346.7,1230.8 339.7,1229.3 330.0,1226.0C320.3,1222.7 307.0,1217.3 297.0,1211.0C287.0,1204.7 279.2,1197.2 270.0,1188.0C260.8,1178.8 250.8,1167.3 242.0,1156.0C233.2,1144.7 225.3,1132.7 217.0,1120.0C208.7,1107.3 200.3,1095.0 192.0,1080.0C183.7,1065.0 174.8,1047.2 167.0,1030.0C159.2,1012.8 152.0,995.8 145.0,977.0C138.0,958.2 130.5,933.2 125.0,917.0C119.5,900.8 115.3,892.5 112.0,880.0C108.7,867.5 106.8,854.5 105.0,842.0C103.2,829.5 101.5,816.7 101.0,805.0C100.5,793.3 100.7,782.8 102.0,772.0C103.3,761.2 105.3,750.8 109.0,740.0C112.7,729.2 117.8,716.7 124.0,707.0C130.2,697.3 138.0,689.8 146.0,682.0C154.0,674.2 163.0,666.2 172.0,660.0C181.0,653.8 190.3,650.0 200.0,645.0C209.7,640.0 220.5,635.8 230.0,630.0C239.5,624.2 252.5,613.3 257.0,610.0" stroke-dasharray="24.5 12" stroke-width="14"/>
</g>
<g fill="none" stroke="#5c3896" stroke-linejoin="round" stroke-linecap="round">
<path d="M817.0,490.5C816.2,490.5 810.9,490.5 807.5,491.0C804.1,491.5 779.3,496.0 776.0,497.0C772.7,498.0 768.0,501.4 767.5,502.5C767.0,503.6 769.3,508.3 770.0,510.0C770.7,511.7 775.1,519.4 776.0,522.5C776.9,525.6 781.9,544.4 781.0,547.5C780.1,550.6 768.1,558.2 765.5,559.5C762.9,560.8 751.9,561.5 750.0,562.5C748.1,563.5 743.2,567.9 742.5,571.0C741.8,574.1 741.4,592.4 741.3,600.0C741.2,607.6 741.3,656.8 741.3,662.0" stroke-width="6"/>
<path d="M741.5,720.0C741.8,724.2 742.6,738.3 743.0,745.0C743.4,751.7 743.8,753.8 744.0,760.0C744.2,766.2 744.8,774.5 744.0,782.0C743.2,789.5 740.5,797.8 739.0,805.0C737.5,812.2 734.8,814.2 735.0,825.0C735.2,835.8 736.3,855.5 740.0,870.0C743.7,884.5 748.7,894.5 757.0,912.0C765.3,929.5 782.0,959.2 790.0,975.0C798.0,990.8 798.0,992.5 805.0,1007.0C812.0,1021.5 822.5,1044.5 832.0,1062.0C841.5,1079.5 854.8,1097.3 862.0,1112.0C869.2,1126.7 871.2,1138.7 875.0,1150.0C878.8,1161.3 881.3,1172.0 885.0,1180.0C888.7,1188.0 893.8,1193.5 897.0,1198.0C900.2,1202.5 902.8,1205.5 904.0,1207.0" stroke-width="5.5"/>
<path d="M905.0,1207.0 L905.0,1258.0 L870.0,1262.0 L839.0,1300.0 L770.0,1236.0 L730.0,1236.0 L730.0,1255.0 L750.0,1272.0 L750.0,1290.0 L765.0,1315.0 L766.0,1357.0" stroke-width="5"/>
</g>
<path d="M347.5,529 L347.5,543 L368.5,572 L368.5,641 Q368.5,660 386,667 L386.0,667.0C396.7,670.5 427.7,680.3 450.0,688.0C472.3,695.7 498.3,704.7 520.0,713.0C541.7,721.3 558.3,728.7 580.0,738.0C601.7,747.3 630.0,760.5 650.0,769.0C670.0,777.5 685.2,783.0 700.0,789.0C714.8,795.0 722.3,797.3 739.0,805.0C755.7,812.7 783.2,826.7 800.0,835.0C816.8,843.3 827.5,847.5 840.0,855.0C852.5,862.5 865.0,871.3 875.0,880.0C885.0,888.7 894.0,899.5 900.0,907.0C906.0,914.5 909.2,918.7 911.0,925.0C912.8,931.3 912.2,938.0 911.0,945.0C909.8,952.0 905.5,957.8 904.0,967.0C902.5,976.2 902.0,986.2 902.0,1000.0C902.0,1013.8 903.7,1033.3 904.0,1050.0C904.3,1066.7 904.0,1091.7 904.0,1100.0 L904,1207" fill="none" stroke="#0f6b41" stroke-width="7" stroke-linejoin="round"/>
<g fill="#fff" opacity="0.26" clip-path="url(#cc)">
<path fill-rule="evenodd" d="M-3,956 a149,149 0 1 0 298,0 a149,149 0 1 0 -298,0 Z M50,956 a96,96 0 1 0 192,0 a96,96 0 1 0 -192,0 Z"/>
</g>
<g fill="#fff" opacity="0.26">
<path d="M348,807 L497.7,955 L593.7,862.6 L646,862.6 L646,1104 L593.7,1104 L593.7,935.5 L497.7,1025.4 L399,930.7 L399,1104 L348,1104 Z"/>
<path d="M646,828 L695,828 L843,968 L843,823 L893,823 L893,1104 L843,1104 L843,1046 L695,918 L695,1104 L646,1104 Z"/>
<rect x="942" y="855" width="56" height="250"/>
<rect x="255" y="1185" width="180" height="7"/>
<path d="M1050,975 L1300,975 L1300,1105 L1092,1105 Z"/>
</g>
<circle cx="861.3" cy="1013.5" r="22.2" fill="#6a46ae" fill-opacity="0.5"/>
<path d="M861.5,1011.5 L1135.8,1447.2 L1198.0,1408.0 L1246.8,1353.0 Z" fill="#6d48ac" fill-opacity="0.86"/>
<g clip-path="url(#beamclip)" fill="#fff" fill-opacity="0.24">
<rect x="942" y="1040" width="56" height="65"/>
<rect x="950" y="1150" width="119" height="79"/>
<text x="1020" y="1295" font-size="42" font-weight="700" letter-spacing="2" word-spacing="15">É &amp; IM</text>
</g>
<text x="966" y="1210" font-size="61" font-weight="700" font-style="italic" fill="#8162b8" textLength="66" lengthAdjust="spacingAndGlyphs" clip-path="url(#beamclip)">47</text>
<circle cx="722" cy="732.5" r="720.5" fill="none" stroke="#5f4399" stroke-width="2" clip-path="url(#beamclip)"/>
<g clip-path="url(#beamclip)"><circle cx="1190" cy="1404" r="80" fill="#2a1a45" fill-opacity="0.75" filter="url(#sh)"/></g>
<circle cx="1186" cy="1420" r="72" fill="#1a1020" fill-opacity="0.55" filter="url(#sh)"/>
<g clip-path="url(#logoclip)">
<rect x="1120" y="1330" width="156" height="156" fill="#a3166e"/>
<polygon points="1118.5,1321.3 1189.8,1321.3 1203.2,1377.1 1168.5,1361.6 1149.5,1352.3" fill="#d6215a"/>
<polygon points="1189.8,1321.3 1234.2,1321.3 1231.1,1342.0 1214.6,1384.3 1203.2,1377.1" fill="#a3166e"/>
<polygon points="1231.7,1342.0 1249.0,1391.5 1214.6,1384.3" fill="#f2672e"/>
<polygon points="1233.1,1340.9 1287.9,1321.3 1287.9,1366.8 1260.0,1369.9 1249.0,1391.5" fill="#d6215a"/>
<polygon points="1226.9,1393.2 1249.0,1391.5 1244.5,1402.9 1238.3,1401.9" fill="#5d3a9b"/>
<polygon points="1118.5,1350.2 1149.5,1352.3 1168.5,1361.6 1168.5,1381.2 1147.4,1403.9 1128.8,1427.7 1118.5,1437.0" fill="#5d3a9b"/>
<polygon points="1147.4,1403.9 1168.5,1381.2 1169.1,1456.6 1177.4,1459.7 1176.7,1479.3 1172.2,1465.9" fill="#f2672e"/>
<polygon points="1128.8,1427.7 1147.4,1403.9 1176.7,1479.3 1163.9,1486.6 1118.5,1486.6 1118.5,1437.0" fill="#a3166e"/>
<polygon points="1178.0,1451.5 1214.6,1430.4 1197.0,1459.7 1178.8,1475.2" fill="#5d3a9b"/>
<polygon points="1197.0,1459.7 1267.2,1428.7 1287.9,1424.6 1287.9,1486.6 1219.7,1486.6 1219.7,1478.3" fill="#d6215a"/>
<polygon points="1178.8,1475.2 1197.0,1459.7 1219.7,1478.3 1219.7,1486.6 1176.3,1486.6" fill="#a3166e"/>
<polygon points="1168.5,1361.6 1250.7,1408.5 1169.1,1456.6" fill="#fff"/>
</g>
<use href="#stn" x="347.6" y="528"/>
<use href="#stn" x="816.8" y="490.4"/>
<use href="#stn" x="742.9" y="745"/>
<use href="#stn" x="738.8" y="805"/>
<use href="#stn" x="905" y="1050"/>
<use href="#stn" x="903.8" y="1207.5"/>
<use href="#stn" x="765.5" y="1357.5"/>
<use href="#car" x="87" y="233"/>
<use href="#car" x="1137" y="29"/>
<use href="#car" x="1337" y="200.5"/>
<use href="#car" x="1396.8" y="1125"/>
<use href="#car" x="648.4" y="1569"/>
<use href="#metro" x="332" y="479.3"/><use href="#metro" x="950" y="1207.5"/>
<use href="#tram" x="837" y="449.6"/><use href="#tram" x="717" y="1333.7"/>
<use href="#train" x="739.3" y="693.8"/><use href="#train" x="509.5" y="793.7"/>
<use href="#plane" x="1534.6" y="549.8"/>
<text x="30.0" y="299.5" font-size="38" fill="#e8632f" textLength="66.0" lengthAdjust="spacingAndGlyphs" stroke="#e8632f" stroke-width="1.4">Paris</text>
<text x="1122.3" y="99.0" font-size="38.5" fill="#e8632f" textLength="67.8" lengthAdjust="spacingAndGlyphs" stroke="#e8632f" stroke-width="1.4">Paris</text>
<text x="1310.5" y="267.0" font-size="38" fill="#e8632f" textLength="104.5" lengthAdjust="spacingAndGlyphs" stroke="#e8632f" stroke-width="1.4">Genève</text>
<text x="1361.0" y="1189.0" font-size="37" fill="#e8632f" textLength="127.0" lengthAdjust="spacingAndGlyphs" stroke="#e8632f" stroke-width="1.4">Grenoble</text>
<text x="583.0" y="1517.0" font-size="37.5" fill="#e8632f" textLength="132.0" lengthAdjust="spacingAndGlyphs" stroke="#e8632f" stroke-width="1.4">Marseille</text>
<polygon points="113.9,280.8 136,284.9 122.5,301.8" fill="#ec652d"/>
<polygon points="1089,94.5 1106,82.5 1108,103" fill="#ec652d"/>
<polygon points="1276,244 1297,240.8 1289,260.5" fill="#ec652d"/>
<polygon points="1335.8,1146.1 1325.9,1164.5 1346.7,1163" fill="#ec652d"/>
<rect x="1048.0" y="179.5" width="72.0" height="43.5" fill="#ec652d"/>
<text x="1056.5" y="212.0" font-size="36" fill="#fff" textLength="58.0" lengthAdjust="spacingAndGlyphs" font-weight="700">A46</text>
<rect x="1159.5" y="259.0" width="72.0" height="43.5" fill="#ec652d"/>
<text x="1167.5" y="292.0" font-size="36" fill="#fff" textLength="58.5" lengthAdjust="spacingAndGlyphs" font-weight="700">A42</text>
<rect x="1186.4" y="1046.0" width="71.7" height="43.7" fill="#ee7340"/>
<text x="1194.5" y="1079.8" font-size="36" fill="#fff" textLength="56.5" lengthAdjust="spacingAndGlyphs" font-weight="700">A43</text>
<rect x="1156.7" y="782.3" width="159.6" height="30.0" fill="#e8632c"/>
<text x="1166.0" y="805.4" font-size="27" fill="#fff" textLength="146.0" lengthAdjust="spacingAndGlyphs" stroke="#fff" stroke-width="0.9">Bd. Urbain Est</text>
<rect x="911.0" y="819.5" width="189.0" height="33.5" fill="#a0166e"/>
<text x="921.0" y="843.7" font-size="28" fill="#fff" textLength="173.0" lengthAdjust="spacingAndGlyphs" stroke="#fff" stroke-width="0.9">Bd. Périphérique</text>
<text x="1470.7" y="649.7" font-size="36" fill="#1f6ba8" textLength="155.0" lengthAdjust="spacingAndGlyphs" stroke="#1f6ba8" stroke-width="1.4">St-Exupéry</text>
<path d="M1418.5,542 Q1436,530 1454,541" fill="none" stroke="#4b3a70" stroke-width="4" stroke-dasharray="1.6 3"/>
<polygon points="1465,535.3 1478,551 1457.5,554" fill="#6a35a8"/>
<text x="619.0" y="342.5" font-size="38" fill="#9a9c9f" textLength="216.0" lengthAdjust="spacingAndGlyphs" font-style="italic" stroke="#9a9c9f" stroke-width="0.9">Caluire-et-Cuire</text>
<text x="781.0" y="635.0" font-size="38" fill="#9a9c9f" textLength="172.0" lengthAdjust="spacingAndGlyphs" font-style="italic" stroke="#9a9c9f" stroke-width="0.9">Villeurbanne</text>
<text x="295.0" y="1103.0" font-size="36" fill="#9a9c9f" textLength="95.0" lengthAdjust="spacingAndGlyphs" font-style="italic" stroke="#9a9c9f" stroke-width="0.9">Oullins</text>
<text x="691.0" y="1160.0" font-size="36" fill="#9a9c9f" textLength="143.0" lengthAdjust="spacingAndGlyphs" font-style="italic" stroke="#9a9c9f" stroke-width="0.9">Vénissieux</text>
<text x="555.0" y="1000.0" font-size="58" fill="#1b181b" textLength="100.0" lengthAdjust="spacingAndGlyphs" font-style="italic" stroke="#1b181b" stroke-width="2.2">Lyon</text>
<text font-size="28" text-anchor="middle" y="7.3" fill="#951a66" stroke="#951a66" stroke-width="1.1" transform="translate(368.0,436.2) rotate(-30)">é</text>
<text font-size="28" text-anchor="middle" y="10.1" fill="#951a66" stroke="#951a66" stroke-width="1.1" transform="translate(440.0,400.2) rotate(-11)">i</text>
<text font-size="28" text-anchor="middle" y="10.1" fill="#951a66" stroke="#951a66" stroke-width="1.1" transform="translate(510.3,397.8) rotate(8)">N</text>
<path id="ads" d="M131,860 C141,898 154,932 165.3,957 C179,992 195,1045 213,1090" fill="none"/>
<text font-size="29" font-weight="700" fill="#9e1a6f" stroke="#9e1a6f" stroke-width="0.9"><textPath href="#ads" textLength="239" lengthAdjust="spacingAndGlyphs">Anneau des Sciences</textPath></text>
<text x="366.0" y="536.5" font-size="28" fill="#0f6b41" textLength="55.5" lengthAdjust="spacingAndGlyphs" stroke="#0f6b41" stroke-width="1.2">Vaise</text>
<text x="800.0" y="518.0" font-size="27.5" fill="#5b3892" textLength="83.0" lengthAdjust="spacingAndGlyphs" stroke="#5b3892" stroke-width="1.2">La Doua</text>
<text x="777.5" y="676.0" font-size="28" fill="#c41f50" textLength="92.5" lengthAdjust="spacingAndGlyphs" stroke="#c41f50" stroke-width="1.2">Gare TGV</text>
<text x="777.5" y="706.0" font-size="28" fill="#c41f50" textLength="155.0" lengthAdjust="spacingAndGlyphs" stroke="#c41f50" stroke-width="1.2">Lyon Part-Dieu</text>
<text x="548.0" y="785.0" font-size="28" fill="#c41f50" textLength="93.0" lengthAdjust="spacingAndGlyphs" stroke="#c41f50" stroke-width="1.2">Gare TGV</text>
<text x="548.0" y="816.0" font-size="28" fill="#c41f50" textLength="147.0" lengthAdjust="spacingAndGlyphs" stroke="#c41f50" stroke-width="1.2">Lyon Perrache</text>
<text x="517.3" y="694.1" font-size="23" fill="#5a463e" textLength="78.8" lengthAdjust="spacingAndGlyphs" stroke="#5a463e" stroke-width="1.1">Bellecour</text>
<text x="921.0" y="1265.5" font-size="27.5" fill="#0f6b41" textLength="80.0" lengthAdjust="spacingAndGlyphs" stroke="#0f6b41" stroke-width="1.2">Gare de</text>
<text x="921.0" y="1296.0" font-size="27.5" fill="#0f6b41" textLength="112.5" lengthAdjust="spacingAndGlyphs" stroke="#0f6b41" stroke-width="1.2">Vénissieux</text>
<text x="701.0" y="1398.7" font-size="27.5" fill="#5b3892" textLength="151.5" lengthAdjust="spacingAndGlyphs" stroke="#5b3892" stroke-width="1.2">Hôpital Feyzin</text>
<text x="701.0" y="1428.7" font-size="27.5" fill="#5b3892" textLength="111.5" lengthAdjust="spacingAndGlyphs" stroke="#5b3892" stroke-width="1.2">Vénissieux</text>
<text x="998.7" y="1031.0" font-size="27" fill="#1c1c1c" textLength="76.0" lengthAdjust="spacingAndGlyphs" stroke="#1c1c1c" stroke-width="1.2">Parc de</text>
<text x="998.7" y="1062.5" font-size="27" fill="#1c1c1c" textLength="66.0" lengthAdjust="spacingAndGlyphs" stroke="#1c1c1c" stroke-width="1.2">Parilly</text>
<text x="800.0" y="747.5" font-size="36" fill="#5b3892" textLength="60.5" lengthAdjust="spacingAndGlyphs" font-weight="700">tram</text>
<text x="866.0" y="750.5" font-size="24.5" fill="#5b3892" textLength="23.0" lengthAdjust="spacingAndGlyphs" stroke="#5b3892" stroke-width="0.5">T3</text>
<text x="713.0" y="1000.4" font-size="36" fill="#5b3892" textLength="62.0" lengthAdjust="spacingAndGlyphs" font-weight="700">tram</text>
<circle cx="796.9" cy="993.7" r="16.8" fill="#fff" stroke="#7a5ca8" stroke-width="1.4"/>
<text x="786.9" y="1000.6" font-size="24" fill="#6b4e9a" textLength="21.5" lengthAdjust="spacingAndGlyphs">T4</text>
<text x="736.0" y="591.0" font-size="24.5" fill="#5b3892" textLength="24.0" lengthAdjust="spacingAndGlyphs" stroke="#5b3892" stroke-width="0.5">T4</text>
<text x="791.0" y="905.5" font-size="35" fill="#0f6b41" textLength="79.0" lengthAdjust="spacingAndGlyphs" font-weight="700">métro</text>
<text x="887" y="903" font-size="19" font-weight="700" fill="none" stroke="#0f6b41" stroke-width="1.3">D</text>
<text x="363" y="616" font-size="19" font-weight="700" fill="none" stroke="#0f6b41" stroke-width="1.3">D</text>
<text x="1070.0" y="1539.2" font-size="49" fill="#5b3a8e" stroke="#5b3a8e" stroke-width="1.5" textLength="34.0" lengthAdjust="spacingAndGlyphs">D</text>
<text x="1115.5" y="1539.2" font-size="49" fill="#5b3a8e" stroke="#5b3a8e" stroke-width="1.5" textLength="23.6" lengthAdjust="spacingAndGlyphs">E</text>
<text x="1153.7" y="1539.2" font-size="49" fill="#5b3a8e" stroke="#5b3a8e" stroke-width="1.5" textLength="22.6" lengthAdjust="spacingAndGlyphs">L</text>
<text x="1178.5" y="1539.2" font-size="49" fill="#5b3a8e" stroke="#5b3a8e" stroke-width="1.5" textLength="31.0" lengthAdjust="spacingAndGlyphs">T</text>
<text x="1211.5" y="1539.2" font-size="49" fill="#5b3a8e" stroke="#5b3a8e" stroke-width="1.5" textLength="34.0" lengthAdjust="spacingAndGlyphs">A</text>
<text x="1257.0" y="1539.2" font-size="49" fill="#5b3a8e" stroke="#5b3a8e" stroke-width="1.5" textLength="22.6" lengthAdjust="spacingAndGlyphs">L</text>
<text x="1285.9" y="1539.2" font-size="49" fill="#5b3a8e" stroke="#5b3a8e" stroke-width="1.5" textLength="31.0" lengthAdjust="spacingAndGlyphs">Y</text>
<text x="1322.0" y="1539.2" font-size="49" fill="#5b3a8e" stroke="#5b3a8e" stroke-width="1.5" textLength="26.7" lengthAdjust="spacingAndGlyphs">S</text>
</svg></body></html>
